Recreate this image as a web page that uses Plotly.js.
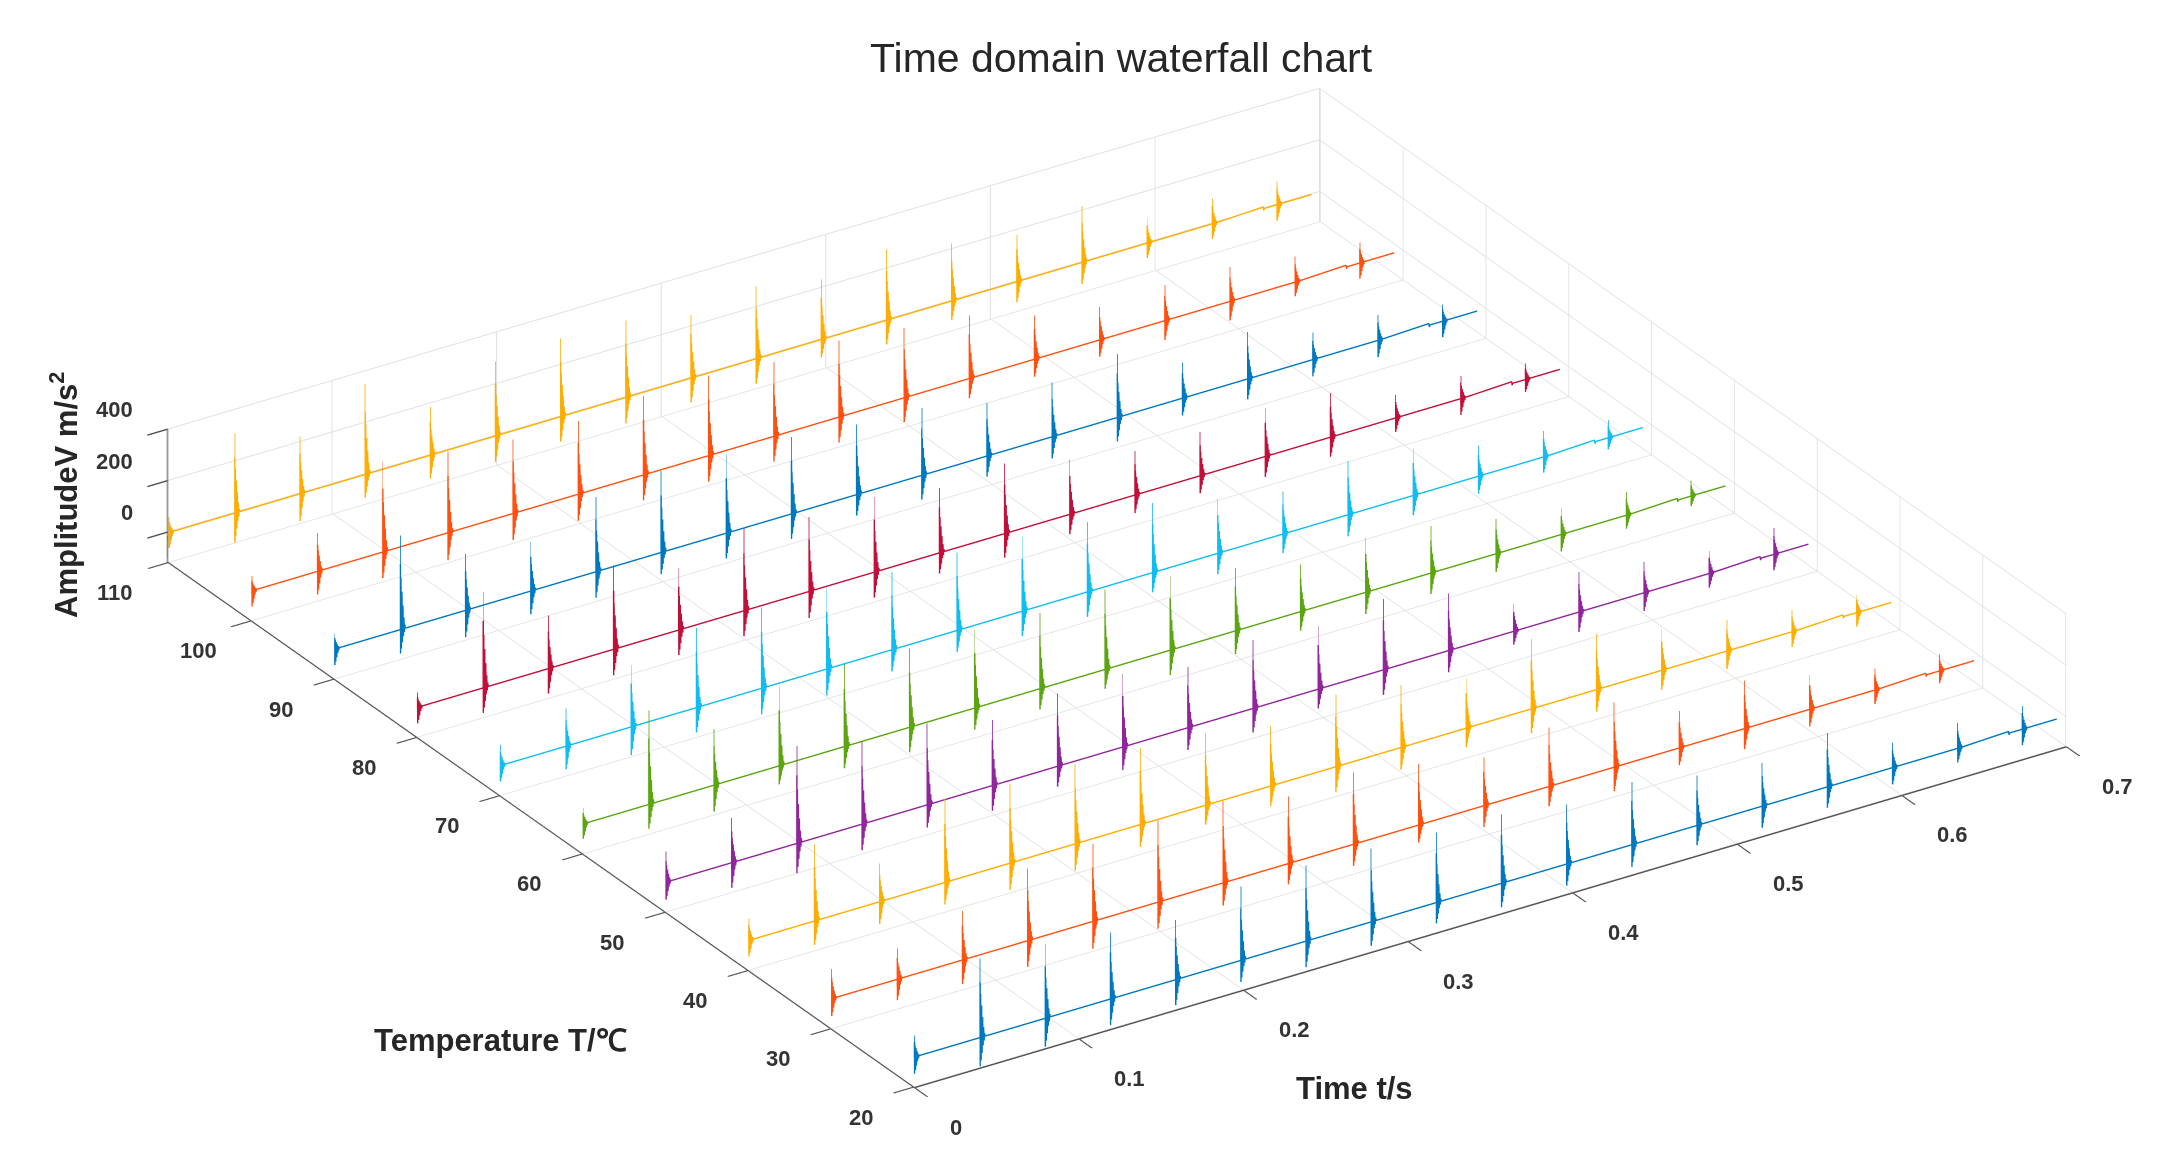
<!DOCTYPE html>
<html><head><meta charset="utf-8">
<script src="https://cdn.plot.ly/plotly-3.0.1.min.js"></script>
<style>html,body{margin:0;padding:0;background:#fff}#c{width:2168px;height:1175px}</style></head>
<body><div id="c"></div><script>
const temperatures=[20,30,40,50,60,70,80,90,100,110];
const seriesColors=['#0078C0','#FF5010','#FFAE00','#90259C','#5AA510','#10BDF0','#C0103A','#0078C0','#FF5010','#FFAE00'];
const spikeTimes=[0.0005,0.0404,0.08,0.1196,0.1592,0.1988,0.2384,0.278,0.3176,0.3572,0.3968,0.4364,0.476,0.5156,0.5552,0.5948,0.6344,0.6737];
const blipTime=0.6653, lineStart=0.0005, lineEnd=0.6946;
const up20=[84,307,288,259,232,288,293,285,273,268,232,243,194,168,209,97,99,90];
const down20=[65,112,110,101,99,84,101,93,81,93,84,86,77,84,81,65,55,62];
const up30=[116,119,190,280,301,317,316,261,280,237,188,230,252,143,187,133,84,65];
const down30=[67,81,94,101,106,103,88,81,84,68,83,77,93,67,80,67,55,48];
const up40=[86,298,148,326,307,310,298,280,233,280,243,194,271,217,160,120,84,71];
const down40=[62,93,86,86,103,103,86,75,77,99,86,74,94,86,75,70,59,54];
const up50=[119,174,378,321,316,254,283,284,236,267,245,275,222,107,156,120,88,103];
const down50=[68,98,116,101,88,98,79,90,86,93,75,97,84,52,77,71,55,62];
const up60=[62,366,219,308,319,306,304,294,310,288,245,184,213,183,135,103,90,61];
const down60=[58,94,103,72,84,97,84,80,75,97,90,74,84,81,71,66,52,39];
const up70=[80,146,240,310,315,316,302,303,290,271,271,213,165,209,182,119,101,70];
const down70=[62,90,110,97,101,103,84,84,97,97,77,81,74,84,77,68,61,45];
const up80=[57,372,206,326,241,320,290,292,253,273,213,172,170,187,172,90,88,62];
const down80=[62,97,97,101,97,99,103,99,80,94,77,70,68,79,76,54,63,48];
const up90=[61,365,218,190,290,316,306,298,273,261,206,210,246,139,183,106,99,65];
const down90=[62,93,104,90,101,84,98,97,81,94,80,84,93,67,79,65,65,62];
const up100=[58,148,352,316,288,285,307,312,289,297,271,245,170,129,138,133,99,79];
const down100=[61,90,101,107,103,103,99,101,98,99,94,77,68,65,75,74,55,61];
const up110=[60,310,223,352,187,289,303,299,245,281,233,275,224,181,219,99,99,90];
const down110=[60,114,107,90,90,101,97,101,95,97,70,94,75,80,84,58,58,62];
const seriesUp=[up20,up30,up40,up50,up60,up70,up80,up90,up100,up110];
const seriesDown=[down20,down30,down40,down50,down60,down70,down80,down90,down100,down110];
const ringOffset=[0,0.00005,0.0003,0.0006,0.0009,0.0012,0.0015,0.0018,0.0021,0.0024,0.0027];
const ringFrac=[0.7,-1,0.55,-0.8,0.4,-0.55,0.25,-0.3,0.12,-0.15,0.04];
const tTicks=[0,0.1,0.2,0.3,0.4,0.5,0.6,0.7];
const zTicks=[0,200,400];
const titleFont='Liberation Sans, Arial, sans-serif';

const traces=[];
temperatures.forEach((T,s)=>{
  const x=[lineStart],z=[0],tx=[],tz=[];
  spikeTimes.forEach((t,i)=>{
    if(i>0&&spikeTimes[i-1]<blipTime&&t>blipTime){x.push(blipTime,blipTime+0.0003,blipTime+0.0006);z.push(7,-7,0);}
    x.push(t);z.push(0);
    ringOffset.forEach((dt,k)=>{x.push(t+dt);z.push(ringFrac[k]>0?ringFrac[k]*seriesUp[s][i]:ringFrac[k]*seriesDown[s][i]);});
    x.push(t+0.003);z.push(0);
    tx.push(t,t,null);tz.push(0,seriesUp[s][i],null);
  });
  traces.push({type:'scatter3d',mode:'lines',x:tx,y:tx.map(v=>v===null?null:T),z:tz,connectgaps:false,
    line:{color:seriesColors[s],width:1.8},opacity:0.8,hoverinfo:'skip',showlegend:false});
  x.push(lineEnd);z.push(0);
  traces.push({type:'scatter3d',mode:'lines',x:x,y:x.map(()=>T),z:z,
    line:{color:seriesColors[s],width:2.8},hoverinfo:'skip',showlegend:false});
});

const tickFont={family:titleFont,size:22,color:'#333333'};
const b=s=>'<b>'+s+'</b>';
const sceneAnn=[];
tTicks.forEach(t=>sceneAnn.push({x:t,y:20,z:-116,text:b(t),showarrow:false,xanchor:'left',yanchor:'middle',xshift:34,yshift:-40,font:tickFont}));
temperatures.concat().forEach(T=>sceneAnn.push({x:0,y:T,z:-116,text:b(T),showarrow:false,xanchor:'center',yanchor:'middle',xshift:-53,yshift:-30,font:tickFont}));
zTicks.forEach(v=>sceneAnn.push({x:0,y:110,z:v,text:b(v),showarrow:false,xanchor:'right',yanchor:'middle',xshift:-33,yshift:20,font:tickFont}));

const axisCommon={showbackground:false,showgrid:true,gridcolor:'#e0e0e0',gridwidth:2,showline:true,linecolor:'#555555',linewidth:3,
  zeroline:false,ticks:'outside',ticklen:24,tickwidth:3,tickcolor:'#555555',showticklabels:false,showspikes:false,title:{text:''}};
const R=1.5, A=2.347;
const layout={width:2168,height:1175,margin:{l:0,r:0,t:0,b:0},paper_bgcolor:'#fff',showlegend:false,
  scene:{domain:{x:[0.0305,1],y:[0.0017,0.9974]},
    aspectmode:'manual',aspectratio:{x:A,y:A,z:0.1087*A},
    camera:{projection:{type:'orthographic'},up:{x:0,y:0,z:1},center:{x:0,y:0,z:0},eye:{x:-0.4841*R,y:-0.7466*R,z:0.4563*R}},
    xaxis:Object.assign({},axisCommon,{range:[0,0.7],tickvals:tTicks}),
    yaxis:Object.assign({},axisCommon,{range:[19.9,110.1],tickvals:temperatures}),
    zaxis:Object.assign({},axisCommon,{range:[-116,400],tickvals:zTicks}),
    annotations:sceneAnn},
  annotations:[
    {xref:'paper',yref:'paper',x:1121/2168,y:1-58/1175,xanchor:'center',yanchor:'middle',text:'Time domain waterfall chart',showarrow:false,font:{family:titleFont,size:41,color:'#262626'}},
    {xref:'paper',yref:'paper',x:500/2168,y:1-1040/1175,xanchor:'center',yanchor:'middle',text:'<b>Temperature T/℃</b>',showarrow:false,font:{family:titleFont,size:31,color:'#262626'}},
    {xref:'paper',yref:'paper',x:1354/2168,y:1-1088/1175,xanchor:'center',yanchor:'middle',text:'<b>Time t/s</b>',showarrow:false,font:{family:titleFont,size:31,color:'#262626'}},
    {xref:'paper',yref:'paper',x:64/2168,y:1-495/1175,xanchor:'center',yanchor:'middle',text:'<b>AmplitudeV m/s<sup>2</sup></b>',textangle:-90,showarrow:false,font:{family:titleFont,size:31,color:'#262626'}}
  ]};
Plotly.newPlot('c',traces,layout,{displayModeBar:false});
</script></body></html>
